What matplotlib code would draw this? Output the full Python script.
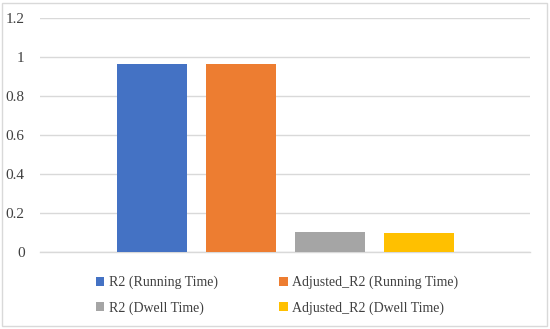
import matplotlib
matplotlib.use("Agg")
import matplotlib.pyplot as plt
from matplotlib.patches import Rectangle

# data
series = ["R2 (Running Time)", "Adjusted_R2 (Running Time)",
          "R2 (Dwell Time)", "Adjusted_R2 (Dwell Time)"]
values = [0.966, 0.966, 0.101, 0.096]
colors = ["#4472C4", "#ED7D31", "#A5A5A5", "#FFC000"]
yticks = [0, 0.2, 0.4, 0.6, 0.8, 1.0, 1.2]
ytick_labels = ["0", "0.2", "0.4", "0.6", "0.8", "1", "1.2"]

plt.rcParams["font.family"] = ["Liberation Serif", "DejaVu Serif"]

fig = plt.figure(figsize=(5.5, 3.29), dpi=100)
ax = fig.add_axes([40 / 550, 1 - 252 / 329, 490 / 550, 234 / 329])

width = 70 / 490
step = 89 / 490
offsets = [(i - 1.5) * step for i in range(len(series))]
bars = []
for off, v, c, lab in zip(offsets, values, colors, series):
    bars.append(ax.bar(off, v, width=width, color=c, label=lab, zorder=3))

ax.set_xlim(-0.5, 0.5)
ax.set_ylim(0, 1.2)
ax.set_yticks(yticks)
ax.set_yticklabels(ytick_labels)
ax.set_xticks([])
ax.tick_params(axis="y", length=0, pad=11, labelsize=11, labelcolor="#404040")
ax.grid(axis="y", color="#d9d9d9", linewidth=1, zorder=0)
for s in ["top", "right", "left"]:
    ax.spines[s].set_visible(False)
ax.spines["bottom"].set_color("#d9d9d9")
ax.spines["bottom"].set_linewidth(1)

# legend fills column-wise, so reorder to get row-wise like Excel
order = [0, 2, 1, 3]
leg = fig.legend([bars[i] for i in order], [series[i] for i in order],
                 loc="upper left", bbox_to_anchor=(96 / 550, 1 - 276 / 329),
                 ncol=2, frameon=False, fontsize=10,
                 handlelength=0.6, handleheight=0.6, handletextpad=0.35,
                 columnspacing=4.4, labelspacing=0.85, borderaxespad=0,
                 borderpad=0)
for t in leg.get_texts():
    t.set_color("#404040")

# outer chart border
fig.patches.append(Rectangle((2 / 550, 3 / 329), 545 / 550, 323 / 329,
                             transform=fig.transFigure, fill=False,
                             edgecolor="#d9d9d9", linewidth=1))

fig.savefig("out.png", dpi=100)
